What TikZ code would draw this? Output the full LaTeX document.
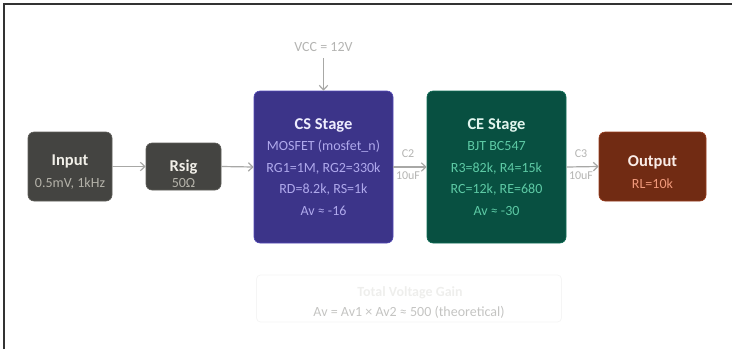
\documentclass[tikz,border=0pt]{standalone}
\usepackage{fontspec}
\setmainfont{Carlito}
\usepackage{xcolor}
\usetikzlibrary{arrows.meta}

\definecolor{inpfill}{HTML}{444441}
\definecolor{inpedge}{HTML}{5F5E5A}
\definecolor{inpttl}{HTML}{F1EFE8}
\definecolor{inpsub}{HTML}{B4B2A9}
\definecolor{csfill}{HTML}{3C3489}
\definecolor{csedge}{HTML}{534AB7}
\definecolor{csttl}{HTML}{EEEDFE}
\definecolor{cssub}{HTML}{AFA9EC}
\definecolor{cefill}{HTML}{085041}
\definecolor{ceedge}{HTML}{0F6E56}
\definecolor{cettl}{HTML}{E1F5EE}
\definecolor{cesub}{HTML}{5DCAA5}
\definecolor{outfill}{HTML}{712B13}
\definecolor{outedge}{HTML}{993C1D}
\definecolor{outttl}{HTML}{FAECE7}
\definecolor{outsub}{HTML}{F0997B}
\definecolor{wiregray}{HTML}{A8A8A6}
\definecolor{notegray}{HTML}{B4B4B2}
\definecolor{faintline}{HTML}{F5F5F5}
\definecolor{faintttl}{HTML}{EEEEEC}
\definecolor{gaintext}{HTML}{C4C4C2}

\newcommand{\blocktitle}[2]{{\fontsize{16.5}{21.5}\selectfont\bfseries\color{#1}#2}}
% title with extra room above, pushes the two-line boxes' text down a bit
\newcommand{\lowtitle}[3][22pt]{{\fontsize{16.5}{21.5}\selectfont\bfseries\color{#2}\rule{0pt}{#1}#3}}

\begin{document}
\begin{tikzpicture}[x=1pt,y=-1pt,
    every node/.style={font=\fontsize{14}{21.5}\selectfont, inner sep=0pt},
    block/.style={rounded corners=6pt, align=center, line width=0.6pt},
    wire/.style={-{Straight Barb[length=4.5pt,width=8.5pt]}, draw=wiregray, line width=1.2pt},
    note/.style={text=notegray, font=\fontsize{12}{14}\selectfont}]
    \useasboundingbox (0,0) rectangle (732,349);
    \draw[line width=1.5pt, black!80] (4,349) -- (4,4) -- (732,4);

    \node[block, fill=inpfill, draw=inpedge, text=inpsub, minimum width=84pt, minimum height=69pt] (inp) at (70,166.5) {\lowtitle{inpttl}{Input}\\0.5mV, 1kHz};
    \node[block, fill=inpfill, draw=inpedge, text=inpsub, minimum width=75pt, minimum height=47pt] (rsig) at (183.5,166.5) {\lowtitle[26pt]{inpttl}{Rsig}\\[-5pt]50Ω};
    \node[block, fill=csfill, draw=csedge, text=cssub, minimum width=139pt, minimum height=152pt] (cs) at (323.5,167) {\blocktitle{csttl}{CS Stage}\\MOSFET (mosfet\_n)\\RG1=1M, RG2=330k\\RD=8.2k, RS=1k\\Av ≈ -16};
    \node[block, fill=cefill, draw=ceedge, text=cesub, minimum width=139pt, minimum height=152pt] (ce) at (496.5,167) {\blocktitle{cettl}{CE Stage}\\BJT BC547\\R3=82k, R4=15k\\RC=12k, RE=680\\Av ≈ -30};
    \node[block, fill=outfill, draw=outedge, text=outsub, minimum width=107pt, minimum height=69pt] (out) at (652.5,166.5) {\lowtitle{outttl}{Output}\\RL=10k};

    \node[text=notegray] (vcc) at (323.5,47) {VCC = 12V};
    \node[note] (c2) at (408,154) {C2};
    \node[note] (c2val) at (408,176) {10uF};
    \node[note] (c3) at (581,154) {C3};
    \node[note] (c3val) at (581,176) {10uF};

    \foreach \from/\to in
    {inp/rsig,rsig/cs,cs/ce,ce/out}
    \draw[wire] (\from.east) -- (\to.west);
    \draw[wire, shorten <=6pt] (vcc.south) -- (cs.north);

    \node[draw=faintline, line width=0.8pt, rounded corners=4pt, minimum width=305pt, minimum height=47pt] (gainbox) at (409,298.5) {};
    \node[text=faintttl, font=\fontsize{14}{16}\selectfont\bfseries] (gainttl) at (410,293) {Total Voltage Gain};
    \node[text=gaintext] (gain) at (409,312) {Av = Av1 × Av2 ≈ 500 (theoretical)};
  \end{tikzpicture}
\end{document}
